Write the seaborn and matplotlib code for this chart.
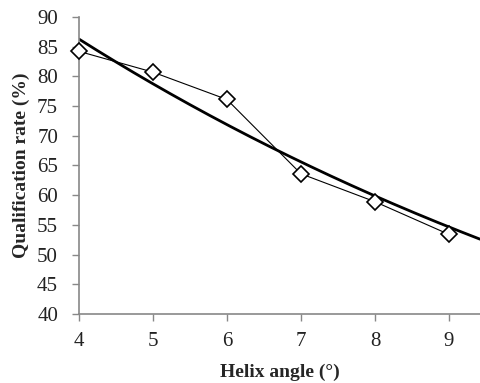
import numpy as np
import pandas as pd
import matplotlib
matplotlib.use("Agg")
import matplotlib.pyplot as plt
import seaborn as sns

# Data
helix_angle = [4, 5, 6, 7, 8, 9]
qual_rate = [84.2, 80.7, 76.1, 63.6, 58.9, 53.4]
# Exponential trendline y = a * exp(b * x)
trend_a = 124.3
trend_b = -0.0913
x_ticks = [4, 5, 6, 7, 8, 9]
y_ticks = [40, 45, 50, 55, 60, 65, 70, 75, 80, 85, 90]

sns.set_theme(style="white")
plt.rcParams["font.family"] = ["Liberation Serif", "DejaVu Serif"]

fig = plt.figure(figsize=(4.81, 3.83), dpi=100)
ax = fig.add_axes([0.164, 0.18, 0.834, 0.776])

df = pd.DataFrame({"x": helix_angle, "y": qual_rate})
xmax = 9.42
tx = np.linspace(4, xmax, 200)
tdf = pd.DataFrame({"x": tx, "y": trend_a * np.exp(trend_b * tx)})

sns.lineplot(data=tdf, x="x", y="y", ax=ax, color="black", linewidth=2.0, zorder=2)
sns.lineplot(data=df, x="x", y="y", ax=ax, color="black", linewidth=0.8,
             marker="D", markersize=8, markerfacecolor="white",
             markeredgecolor="black", markeredgewidth=1.2, zorder=3, clip_on=False)

ax.set_xlim(4, xmax)
ax.set_ylim(40, 90)
ax.set_xticks(x_ticks)
ax.set_yticks(y_ticks)
ax.tick_params(axis="both", labelsize=15, colors="#888888", labelcolor="#222222",
               direction="out", length=5, width=1, bottom=True, left=True)
ax.tick_params(axis="x", pad=8)
ax.tick_params(axis="y", pad=10)
for s in ["top", "right"]:
    ax.spines[s].set_visible(False)
for s in ["left", "bottom"]:
    ax.spines[s].set_color("#888888")
    ax.spines[s].set_linewidth(1.2)

ax.set_xlabel("Helix angle (°)", fontsize=14, fontweight="bold", labelpad=9)
ax.set_ylabel("Qualification rate (%)", fontsize=14, fontweight="bold", labelpad=5)

fig.savefig("out.png", dpi=100)
